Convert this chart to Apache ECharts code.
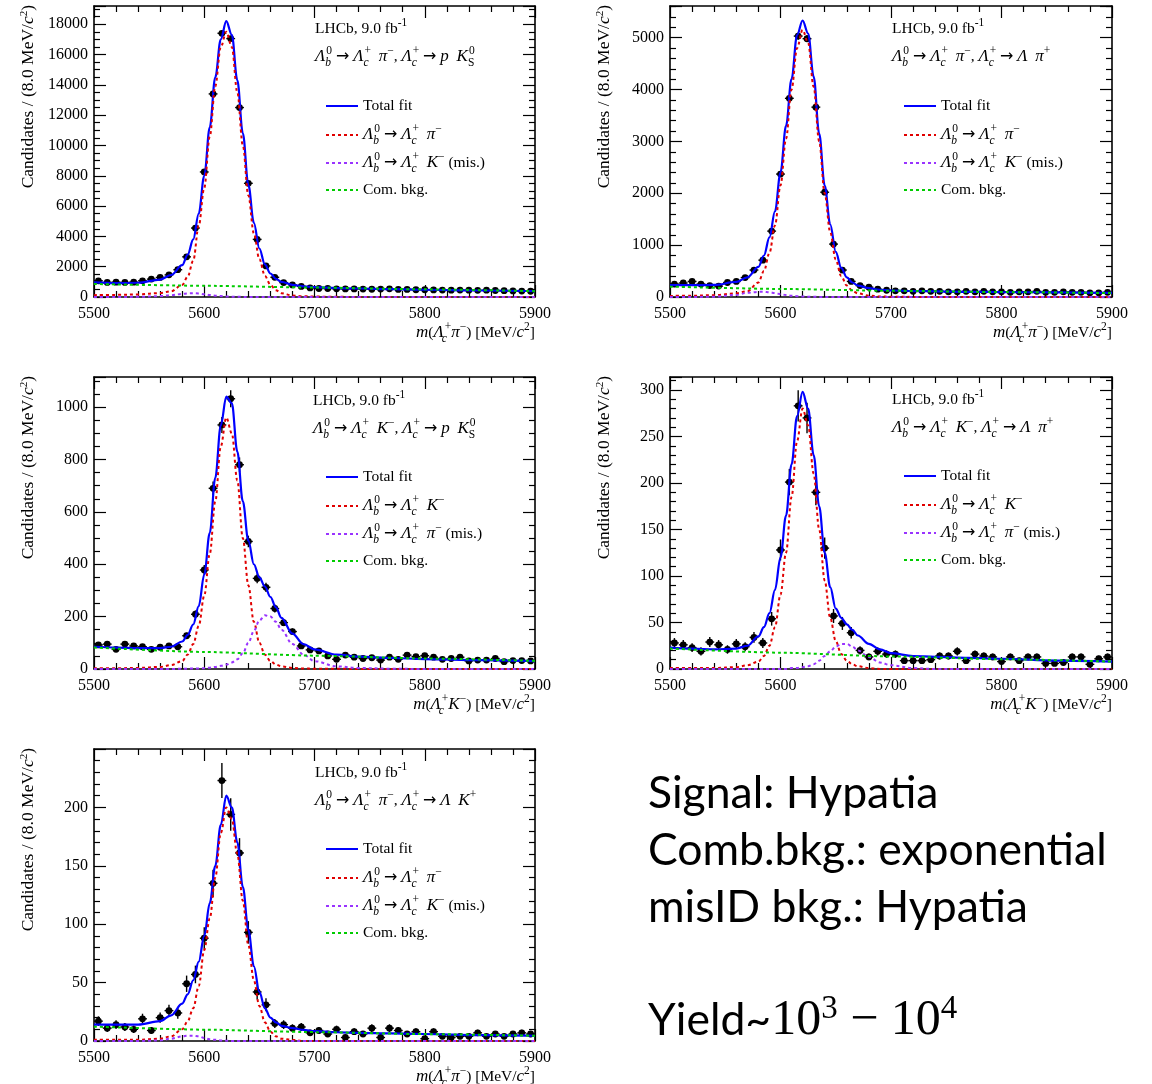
<!DOCTYPE html>
<html><head><meta charset="utf-8">
<script src="https://cdn.jsdelivr.net/npm/echarts/dist/echarts.min.js"></script>
<style>html,body{margin:0;padding:0;background:#fff}#c{width:1152px;height:1084px}</style>
</head><body><div id="c"></div>
<script>
// ---------------- data ----------------
const binCenters = [5504,5512,5520,5528,5536,5544,5552,5560,5568,5576,5584,5592,5600,5608,5616,5624,5632,5640,5648,5656,5664,5672,5680,5688,5696,5704,5712,5720,5728,5736,5744,5752,5760,5768,5776,5784,5792,5800,5808,5816,5824,5832,5840,5848,5856,5864,5872,5880,5888,5896];
const curveX = [5500,5520,5540,5560,5570,5580,5585,5590,5595,5600,5605,5610,5615,5620,5625,5630,5635,5640,5645,5650,5655,5660,5665,5670,5680,5690,5700,5720,5740,5770,5800,5850,5900];
const combX = [5500,5600,5700,5800,5900];
const xTicks = [5500,5600,5700,5800,5900];

// Panel 1: Lb -> Lc pi, Lc -> p KS
const p1Data = [1070,960,980,960,980,1070,1180,1290,1460,1800,2650,4550,8250,13400,17400,17050,12500,7500,3800,2050,1300,950,800,700,600,560,560,540,530,530,520,510,520,540,500,500,480,480,470,460,450,460,450,440,450,430,420,400,390,380];
const p1Total = [960,910,940,1150,1450,2100,2800,3800,5500,8000,11200,14500,17000,18200,17300,14300,10800,7400,4900,3200,2150,1550,1200,1000,800,700,650,590,560,520,480,430,390];
const p1Signal = [120,140,170,260,380,800,1350,2400,4700,7200,10600,13900,16500,17500,16500,13500,10000,6700,4200,2500,1400,800,450,250,100,50,30,10,5,2,1,0,0];
const p1Mis = [0,2,10,60,120,200,240,250,230,180,130,90,60,35,20,12,8,5,3,2,1,0,0,0,0,0,0,0,0,0,0,0,0];
const p1Comb = [860,740,625,505,385];

// Panel 2: Lb -> Lc pi, Lc -> L pi
const p2Data = [250,270,300,250,220,210,280,300,375,520,710,1270,2370,3830,5030,4980,3660,2020,1020,520,300,220,190,150,130,120,120,110,120,110,110,100,100,110,100,110,100,100,90,100,100,110,90,90,100,90,90,80,80,90];
const p2Total = [230,228,232,290,380,580,800,1150,1650,2400,3300,4200,5050,5330,5080,4250,3150,2150,1400,870,560,380,280,220,170,140,125,115,110,100,95,88,80];
const p2Signal = [20,25,35,70,110,280,500,850,1380,2150,3050,4000,4800,5150,4900,4050,3000,2000,1250,720,400,220,120,70,25,10,5,2,1,0,0,0,0];
const p2Mis = [0,1,5,40,80,100,100,90,75,55,38,25,15,10,5,3,2,1,0,0,0,0,0,0,0,0,0,0,0,0,0,0,0];
const p2Comb = [200,155,120,95,76];

// Panel 3: Lb -> Lc K, Lc -> p KS
const p3Data = [92,95,75,95,88,85,75,83,88,85,127,209,378,690,932,1032,780,487,346,312,231,177,143,88,73,69,50,37,53,45,40,43,34,45,37,53,47,51,45,37,40,45,31,34,34,40,28,32,32,31];
const p3Total = [85,82,80,80,85,105,130,170,240,360,520,730,930,1040,1015,830,640,490,400,350,315,275,235,195,135,95,75,55,47,42,38,34,30];
const p3Signal = [3,3,4,8,15,30,55,95,165,280,440,640,850,960,900,720,500,320,180,100,55,30,17,10,4,2,1,1,0,0,0,0,0];
const p3Mis = [0,0,0,0,0,1,1,2,2,3,5,8,12,17,25,37,60,100,145,185,205,200,180,150,95,55,30,10,4,1,0,0,0];
const p3Comb = [82,65,51,40,31];

// Panel 4: Lb -> Lc K, Lc -> L pi
const p4Data = [28,26,23,19,29,26,21,27,24,34,28,54,128,201,283,270,190,130,57,49,39,20,13,19,16,16,9,9,9,10,14,14,19,9,16,14,13,8,13,9,13,13,6,6,7,13,13,5,11,13];
const p4Total = [23,22,21,22,25,35,45,60,85,120,165,220,272,298,280,230,175,125,88,65,55,48,42,36,27,21,17,14,13,12,11,9,8];
const p4Signal = [1,1,1,2,4,8,14,25,45,80,125,185,245,280,262,210,150,95,55,30,16,9,5,3,1,0,0,0,0,0,0,0,0];
const p4Mis = [0,0,0,0,0,0,0,0,0,0,0,1,1,2,3,5,9,14,19,24,27,27,24,20,13,7,4,1,0,0,0,0,0];
const p4Comb = [22,17.5,13.5,10.5,8];

// Panel 5: Lb -> Lc pi, Lc -> L K
const p5Data = [17,11,14,12,10,19,9,20,26,24,49,57,88,135,223,194,161,93,42,31,15,14,11,12,7,9,6,10,3,8,6,11,3,11,9,6,8,2,8,4,3,4,4,7,4,6,4,6,7,6];
const p5Total = [14,14,14,17,22,32,40,52,68,90,118,150,185,210,200,170,132,95,64,42,28,20,16,13,11,9.5,8.5,7.5,7,6.5,6,5,4.5];
const p5Signal = [1,1,1,2,4,10,17,28,47,78,105,140,178,200,190,160,120,82,52,30,16,8,4,2,1,0,0,0,0,0,0,0,0];
const p5Mis = [0,0,0,0.5,2,4,4.5,4.5,4,2.5,1.5,1,0.5,0.3,0,0,0,0,0,0,0,0,0,0,0,0,0,0,0,0,0,0,0];
const p5Comb = [12.3,9.7,7.6,5.9,4.5];

// ---------------- text helpers ----------------
const SERIF = "'Liberation Serif','Times New Roman',serif";
const base = {fontFamily: SERIF, color: '#000', fontWeight: 'normal'};
const R = {
  n: Object.assign({}, base, {fontSize: 15.5, lineHeight: 24, verticalAlign: 'middle'}),
  i: Object.assign({}, base, {fontSize: 17, fontStyle: 'italic', lineHeight: 24, verticalAlign: 'middle'}),
  ar: Object.assign({}, base, {fontFamily: "'DejaVu Sans',sans-serif", fontSize: 16, lineHeight: 24, verticalAlign: 'middle'}),
  sb: Object.assign({}, base, {fontSize: 11.5, fontStyle: 'italic', lineHeight: 9, verticalAlign: 'bottom', width: 1, align: 'left'}),
  sr: Object.assign({}, base, {fontSize: 11.5, lineHeight: 9, verticalAlign: 'bottom', width: 1, align: 'left'}),
  sp: Object.assign({}, base, {fontSize: 11.5, lineHeight: 9, verticalAlign: 'top'})
};
const Lam = (sub, sup) => `{i|Λ}{sb|${sub}}{sp|${sup}}`;
const AR = '{n| }{ar|→}{n| }';
const head = '{n|LHCb, 9.0 fb}{sp|-1}';
const Lb = Lam('b', '0') + AR + Lam('c', '+');
const decays = [
  Lb + '{n|  }{i|π}{sp|−}{n|, }' + Lam('c', '+') + AR + '{i|p}{n|  }{i|K}{sr|S}{sp|0}',
  Lb + '{n|  }{i|π}{sp|−}{n|, }' + Lam('c', '+') + AR + '{i|Λ}{n|  }{i|π}{sp|+}',
  Lb + '{n|  }{i|K}{sp|−}{n|, }' + Lam('c', '+') + AR + '{i|p}{n|  }{i|K}{sr|S}{sp|0}',
  Lb + '{n|  }{i|K}{sp|−}{n|, }' + Lam('c', '+') + AR + '{i|Λ}{n|  }{i|π}{sp|+}',
  Lb + '{n|  }{i|π}{sp|−}{n|, }' + Lam('c', '+') + AR + '{i|Λ}{n|  }{i|K}{sp|+}'
];
const legendLabels = {
  total: '{n|Total fit}',
  sigPi: Lb + '{n|  }{i|π}{sp|−}',
  sigK: Lb + '{n|  }{i|K}{sp|−}',
  misK: Lb + '{n|  }{i|K}{sp|−}{n| (mis.)}',
  misPi: Lb + '{n|  }{i|π}{sp|−}{n| (mis.)}',
  comb: '{n|Com. bkg.}'
};
const xTitlePi = '{i|m}{n|(}' + Lam('c', '+') + '{i|π}{sp|−}{n|) [MeV/}{i|c}{sp|2}{n|]}';
const xTitleK = '{i|m}{n|(}' + Lam('c', '+') + '{i|K}{sp|−}{n|) [MeV/}{i|c}{sp|2}{n|]}';

// ---------------- layout ----------------
const panels = [
  {d: p1Data, t: p1Total, s: p1Signal, m: p1Mis, c: p1Comb, ymax: 19200, yint: 2000, ymin: 4, sig: 'sigPi', mis: 'misK', xt: xTitlePi,
   g: {left: 94, top: 6, width: 441, height: 291}, tx: 315, ty: 17, lx: 325, ly: 105},
  {d: p2Data, t: p2Total, s: p2Signal, m: p2Mis, c: p2Comb, ymax: 5610, yint: 1000, ymin: 5, sig: 'sigPi', mis: 'misK', xt: xTitlePi,
   g: {left: 670, top: 6, width: 442, height: 291}, tx: 892, ty: 17, lx: 903, ly: 105},
  {d: p3Data, t: p3Total, s: p3Signal, m: p3Mis, c: p3Comb, ymax: 1115, yint: 200, ymin: 4, sig: 'sigK', mis: 'misPi', xt: xTitleK,
   g: {left: 94, top: 377, width: 441, height: 292}, tx: 313, ty: 389, lx: 325, ly: 476},
  {d: p4Data, t: p4Total, s: p4Signal, m: p4Mis, c: p4Comb, ymax: 314, yint: 50, ymin: 5, sig: 'sigK', mis: 'misPi', xt: xTitleK,
   g: {left: 670, top: 377, width: 442, height: 292}, tx: 892, ty: 388, lx: 903, ly: 475},
  {d: p5Data, t: p5Total, s: p5Signal, m: p5Mis, c: p5Comb, ymax: 250, yint: 50, ymin: 5, sig: 'sigPi', mis: 'misK', xt: xTitlePi,
   g: {left: 94, top: 749, width: 441, height: 292}, tx: 315, ty: 761, lx: 325, ly: 848}
];

const axisLineStyle = {color: '#000', width: 1.6};
const tickStyle = {color: '#000', width: 1.2};
const grid = [], xAxis = [], yAxis = [], series = [], legend = [], title = [], graphic = [];
const pts = (xs, ys) => xs.map((x, i) => [x, ys[i]]);
const plain = v => String(v);

panels.forEach((p, k) => {
  grid.push(Object.assign({outerBoundsMode: 'none', containLabel: false}, p.g));
  const xBase = {type: 'value', gridIndex: k, min: xTicks[0], max: xTicks[xTicks.length - 1], interval: 100,
    axisLine: {show: true, onZero: false, lineStyle: axisLineStyle},
    axisTick: {show: true, inside: true, length: 12, lineStyle: tickStyle},
    minorTick: {show: true, splitNumber: 5, length: 6, lineStyle: tickStyle},
    splitLine: {show: false}};
  xAxis.push(Object.assign({}, xBase, {position: 'bottom',
    axisLabel: {fontFamily: SERIF, fontSize: 16, color: '#000', margin: 9, formatter: plain}}));
  xAxis.push(Object.assign({}, xBase, {position: 'top', axisLabel: {show: false}}));
  const yBase = {type: 'value', gridIndex: k, min: 0, max: p.ymax, interval: p.yint,
    axisLine: {show: true, onZero: false, lineStyle: axisLineStyle},
    axisTick: {show: true, inside: true, length: 12, lineStyle: tickStyle},
    minorTick: {show: true, splitNumber: p.ymin, length: 6, lineStyle: tickStyle},
    splitLine: {show: false}};
  yAxis.push(Object.assign({}, yBase, {position: 'left',
    axisLabel: {fontFamily: SERIF, fontSize: 16, color: '#000', margin: 6, showMaxLabel: false, formatter: plain}}));
  yAxis.push(Object.assign({}, yBase, {position: 'right', axisLabel: {show: false}}));

  const xi = 2 * k, yi = 2 * k;
  // data points with error bars
  series.push({
    type: 'custom', name: 'data' + k, xAxisIndex: xi, yAxisIndex: yi, z: 2, clip: false,
    data: binCenters.map((x, i) => [x, p.d[i], Math.sqrt(p.d[i])]),
    renderItem: (params, api) => {
      const x = api.value(0), y = api.value(1), e = api.value(2);
      const c = api.coord([x, y]);
      const l = api.coord([x - 4, y]), r = api.coord([x + 4, y]);
      const t = api.coord([x, y + e]), b = api.coord([x, Math.max(0, y - e)]);
      const st = {stroke: '#000', lineWidth: 1.4};
      return {type: 'group', children: [
        {type: 'line', shape: {x1: l[0], y1: c[1], x2: r[0], y2: c[1]}, style: st},
        {type: 'line', shape: {x1: c[0], y1: t[1], x2: c[0], y2: b[1]}, style: st},
        {type: 'circle', shape: {cx: c[0], cy: c[1], r: 3.4}, style: {fill: '#000'}}
      ]};
    }
  });
  const lineBase = {type: 'line', xAxisIndex: xi, yAxisIndex: yi, showSymbol: false, symbol: 'none',
    smooth: 0.35, smoothMonotone: 'x', silent: true, z: 3};
  series.push(Object.assign({}, lineBase, {name: 'total', data: pts(curveX, p.t),
    lineStyle: {color: '#0000ff', width: 2.2}, itemStyle: {color: '#0000ff'}}));
  series.push(Object.assign({}, lineBase, {name: p.sig, data: pts(curveX, p.s),
    lineStyle: {color: '#e00000', width: 2, type: [3, 3]}, itemStyle: {color: '#e00000'}}));
  series.push(Object.assign({}, lineBase, {name: p.mis, data: pts(curveX, p.m),
    lineStyle: {color: '#9933ff', width: 2, type: [3, 3]}, itemStyle: {color: '#9933ff'}}));
  series.push(Object.assign({}, lineBase, {name: 'comb', data: pts(combX, p.c), smooth: 0.2,
    lineStyle: {color: '#00cc00', width: 2, type: [3, 3]}, itemStyle: {color: '#00cc00'}}));

  const rowShift = [0, -3, -3, 0];
  ['total', p.sig, p.mis, 'comb'].forEach((nm, j) => {
    legend.push({orient: 'vertical', left: p.lx, top: p.ly + 28 * j - 7 + rowShift[j], itemWidth: 32, itemHeight: 14, itemGap: 0,
      padding: 0, selectedMode: false, data: [nm], itemStyle: {opacity: 0},
      formatter: n => legendLabels[n], textStyle: {fontFamily: SERIF, fontSize: 15.5, color: '#000', fontWeight: 'normal', rich: R}});
  });

  const ts = {rich: R, fontFamily: SERIF, fontSize: 15.5, fontWeight: 'normal', color: '#000'};
  title.push({text: head, left: p.tx, top: p.ty, padding: 0, textStyle: ts});
  title.push({text: decays[k], left: p.tx, top: p.ty + 28, padding: 0, textStyle: ts});
  title.push({text: p.xt, left: p.g.left + p.g.width, top: p.g.top + p.g.height + 24, textAlign: 'right', padding: 0, textStyle: ts});

  graphic.push({type: 'text', x: p.g.left - 66, y: p.g.top - 1, rotation: Math.PI / 2, silent: true,
    style: {text: 'Candidates / (8.0 MeV/{ic|c}{sc|2})', fontFamily: SERIF, fontSize: 17.5, fill: '#000',
      align: 'right', verticalAlign: 'middle',
      rich: {ic: {fontFamily: SERIF, fontSize: 17.5, fontStyle: 'italic', fill: '#000', color: '#000'},
             sc: {fontFamily: SERIF, fontSize: 11, fill: '#000', color: '#000', verticalAlign: 'top', lineHeight: 8}}}});
});

// right-hand notes
const SANS = "Lato,'Open Sans',sans-serif";
const noteRich = {
  s: {fontFamily: SANS, fontSize: 44.5, color: '#000', fontWeight: 'normal', lineHeight: 56, verticalAlign: 'middle'},
  m: {fontFamily: SERIF, fontSize: 50, color: '#000', fontWeight: 'normal', lineHeight: 56, verticalAlign: 'middle'},
  ms: {fontFamily: SERIF, fontSize: 33, color: '#000', fontWeight: 'normal', lineHeight: 30, verticalAlign: 'top'}
};
['Signal: Hypatia', 'Comb.bkg.: exponential', 'misID bkg.: Hypatia'].forEach((t, i) => {
  title.push({text: `{s|${t}}`, left: 648, top: 766 + i * 57, padding: 0, textStyle: {rich: noteRich, fontWeight: 'normal'}});
});
title.push({text: '{s|Yield~}{m|10}{ms|3}{m| − 10}{ms|4}', left: 648, top: 993, padding: 0, textStyle: {rich: noteRich, fontWeight: 'normal'}});

const chart = echarts.init(document.getElementById('c'), null, {renderer: 'canvas'});
chart.setOption({animation: false, backgroundColor: '#fff', grid, xAxis, yAxis, series, legend, title, graphic});
</script></body></html>
